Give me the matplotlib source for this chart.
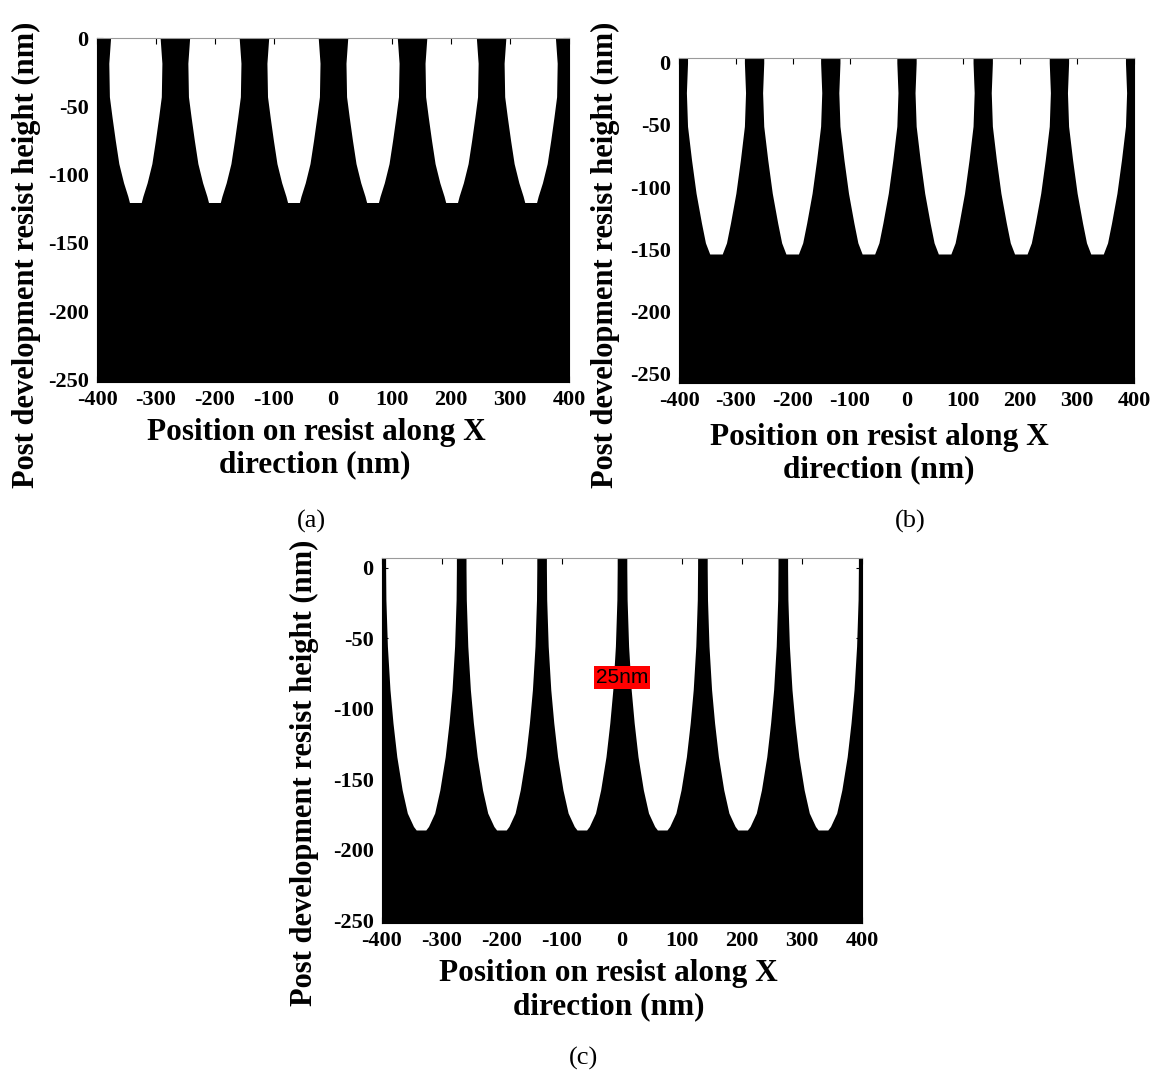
import numpy as np
import matplotlib
matplotlib.use("Agg")
import matplotlib.pyplot as plt

OUT_FILE = "out.png"
W, H = 1151, 1075
SERIF = "Liberation Serif"

# trench centres (nm), shared by all three panels
trench_centers = [-335, -201, -67, 67, 201, 335]

# trench profile: depth (nm) and half-width (nm)
depth_a = [0, -18.5, -43, -58, -75, -92, -106, -116, -120.5]
halfw_a = [42, 45, 44, 39.5, 34, 28, 20, 12.7, 10]

depth_b = [0, -24, -51, -78, -105, -129, -145, -154]
halfw_b = [50, 52, 50, 43, 35, 25.5, 18.5, 11]

depth_c = [0, -22.5, -55.6, -86.5, -110, -134, -157.6, -174, -183.5, -186]
halfw_c = [59, 58.5, 56, 51.7, 46.7, 40.3, 31.4, 22.8, 12.5, 8]

x_ticks = [-400, -300, -200, -100, 0, 100, 200, 300, 400]
y_ticks = [0, -50, -100, -150, -200, -250]

plt.rcParams["axes.unicode_minus"] = False


def px(x, y):
    return x / W, 1 - y / H


def draw_panel(fig, box, ylim, depth, halfw):
    x0, y0, x1, y1 = box
    ax = fig.add_axes([x0 / W, 1 - y1 / H, (x1 - x0) / W, (y1 - y0) / H])
    ax.set_facecolor("black")
    ax.set_xlim(-400, 400)
    ax.set_ylim(*ylim)
    d = np.r_[ylim[1], depth]
    w = np.r_[halfw[0], halfw]
    for c in trench_centers:
        ax.fill_betweenx(d, c - w, c + w, color="white", lw=0)
    ax.set_xticks(x_ticks)
    ax.set_yticks(y_ticks)
    ax.tick_params(direction="in", length=4, color="black", top=True, right=True,
                   pad=6, labelsize=16)
    for lab in ax.get_xticklabels() + ax.get_yticklabels():
        lab.set_fontfamily(SERIF)
        lab.set_fontweight("bold")
    for side in ["left", "right", "bottom"]:
        ax.spines[side].set_color("black")
    ax.spines["top"].set_color("#9a9a9a")
    return ax


def labels(fig, ylab_xy, xlab1_xy, xlab2_xy, cap_xy, cap):
    fig.text(*px(*ylab_xy), "Post development resist height (nm)", rotation=90,
             ha="center", va="center", fontsize=22, fontweight="bold", family=SERIF)
    fig.text(*px(*xlab1_xy), "Position on resist along X", ha="center", va="center",
             fontsize=22.5, fontweight="bold", family=SERIF)
    fig.text(*px(*xlab2_xy), "direction (nm)", ha="center", va="center",
             fontsize=22.5, fontweight="bold", family=SERIF)
    fig.text(*px(*cap_xy), cap, ha="center", va="center", fontsize=19, family=SERIF)


def main():
    fig = plt.figure(figsize=(W / 100, H / 100), dpi=100)

    draw_panel(fig, (97, 38, 569, 382), (-252, 0), depth_a, halfw_a)
    labels(fig, (26, 255), (316, 432), (315, 465), (311, 521), "(a)")

    draw_panel(fig, (679, 58, 1134, 383), (-258, 4), depth_b, halfw_b)
    labels(fig, (605, 255), (879, 437), (879, 470), (910, 521), "(b)")

    ax_c = draw_panel(fig, (382, 558, 862, 923), (-252, 7), depth_c, halfw_c)
    labels(fig, (304, 773), (608, 973), (609, 1007), (583, 1058), "(c)")
    ax_c.text(0, -78, "25nm", ha="center", va="center", fontsize=15,
              family="Liberation Sans", color="black",
              bbox=dict(facecolor="red", edgecolor="none", pad=1.5))

    fig.savefig(OUT_FILE, dpi=100)


if __name__ == "__main__":
    main()
